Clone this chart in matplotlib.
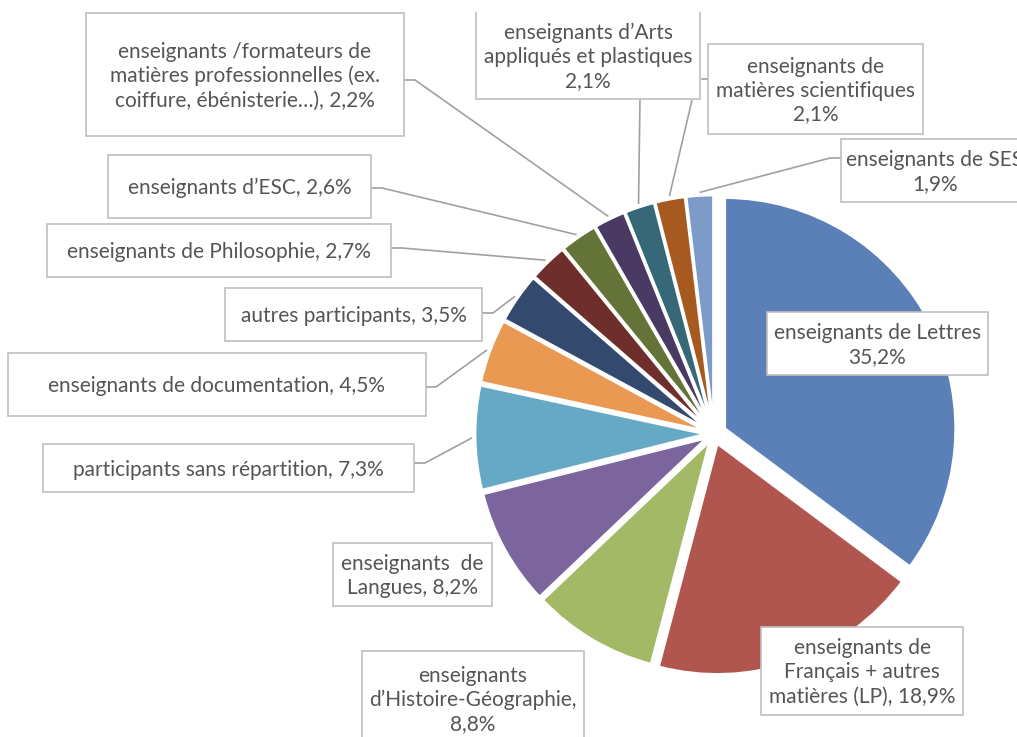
import matplotlib.pyplot as plt
import numpy as np

# participants par discipline (%), dans l'ordre du camembert, sens horaire depuis midi
noms = [
    "enseignants de Lettres",
    "enseignants de\nFrançais + autres\nmatières (LP)",
    "enseignants\nd’Histoire-Géographie",
    "enseignants  de\nLangues",
    "participants sans répartition",
    "enseignants de documentation",
    "autres participants",
    "enseignants de Philosophie",
    "enseignants d’ESC",
    "enseignants /formateurs de\nmatières professionnelles (ex.\ncoiffure, ébénisterie…)",
    "enseignants d’Arts\nappliqués et plastiques",
    "enseignants de\nmatières scientifiques",
    "enseignants de SES",
]
valeurs = [35.2, 18.9, 8.8, 8.2, 7.3, 4.5, 3.5, 2.7, 2.6, 2.2, 2.1, 2.1, 1.9]
separateurs = ["\n", ", ", ",\n", ", ", ", ", ", ", ", ", ", ", ", ", ", ", "\n", "\n", "\n"]

couleurs = ["#5b7fb7", "#b0564f", "#a3b966", "#7b659c", "#66a9c4", "#e99952",
            "#33496e", "#6e2e2b", "#647337", "#4a3a63", "#376878", "#a65a20", "#7c9bc9"]
eclat = [12, 10, 8, 8, 8, 8, 8, 8, 8, 8, 8, 8, 8]

# boites des etiquettes (x0, y0, x1, y1) en pixels, y vers le bas
boites = [
    (767, 312, 988, 375),
    (761, 627, 963, 715),
    (362, 651, 584, 746),
    (333, 543, 492, 606),
    (43, 444, 414, 492),
    (8, 353, 426, 416),
    (225, 288, 482, 341),
    (47, 224, 391, 277),
    (108, 155, 371, 218),
    (86, 13, 404, 136),
    (476, 11, 700, 99),
    (708, 44, 923, 134),
    (841, 139, 1029, 202),
]
# points de depart des traits de rappel (bord de boite puis coude)
rappels = [
    None, None, None, None,
    [(414, 463), (425, 463)],
    [(426, 387), (436, 387)],
    [(482, 313), (493, 313)],
    [(391, 248), (402, 248)],
    [(371, 188), (382, 188)],
    [(404, 80), (415, 80)],
    [(640, 99)],
    [(708, 79), (697, 79)],
    [(841, 158), (830, 158)],
]

centre = (714, 434)
rayon = 231

fig = plt.figure(figsize=(10.17, 7.37), dpi=100)
ax = fig.add_axes([0, 0, 1, 1])

wedges, _ = ax.pie(valeurs, colors=couleurs, startangle=270, counterclock=True,
                   radius=rayon, center=centre, explode=eclat,
                   wedgeprops=dict(edgecolor="white", linewidth=2))
for w in wedges:
    w.set_zorder(1)

ax.set_xlim(0, 1017)
ax.set_ylim(737, 0)
ax.set_aspect("equal")
ax.axis("off")

cumul = np.cumsum([0] + valeurs)
for i, nom in enumerate(noms):
    texte = nom + separateurs[i] + f"{valeurs[i]:.1f}%".replace(".", ",")
    x0, y0, x1, y1 = boites[i]

    if rappels[i] is not None:
        milieu = np.deg2rad(270 + 3.6 * (cumul[i] + cumul[i + 1]) / 2)
        fin = (centre[0] + (rayon + 11) * np.cos(milieu),
               centre[1] + (rayon + 11) * np.sin(milieu))
        pts = rappels[i] + [fin]
        ax.plot([p[0] for p in pts], [p[1] for p in pts], color="#a0a0a0",
                lw=1.2, zorder=2, solid_capstyle="butt")

    if i == 10:
        # boite du haut coupee : pas de bord superieur
        ax.fill([x0, x1, x1, x0], [y0, y0, y1, y1], color="white", zorder=3)
        ax.plot([x0, x0, x1, x1], [y0 + 2, y1, y1, y0 + 2], color="#bfbfbf",
                lw=1.2, zorder=3)
    else:
        ax.add_patch(plt.Rectangle((x0, y0), x1 - x0, y1 - y0, facecolor="white",
                                   edgecolor="#bfbfbf", lw=1.2, zorder=3))
    xt = (x0 + x1) / 2 if i != 12 else 935
    ax.text(xt, (y0 + y1) / 2 + 1.5, texte, ha="center", va="center",
            fontsize=15, family="Lato", color="#555555", linespacing=1.25,
            zorder=4, multialignment="center")

fig.savefig("out.png", dpi=100)
